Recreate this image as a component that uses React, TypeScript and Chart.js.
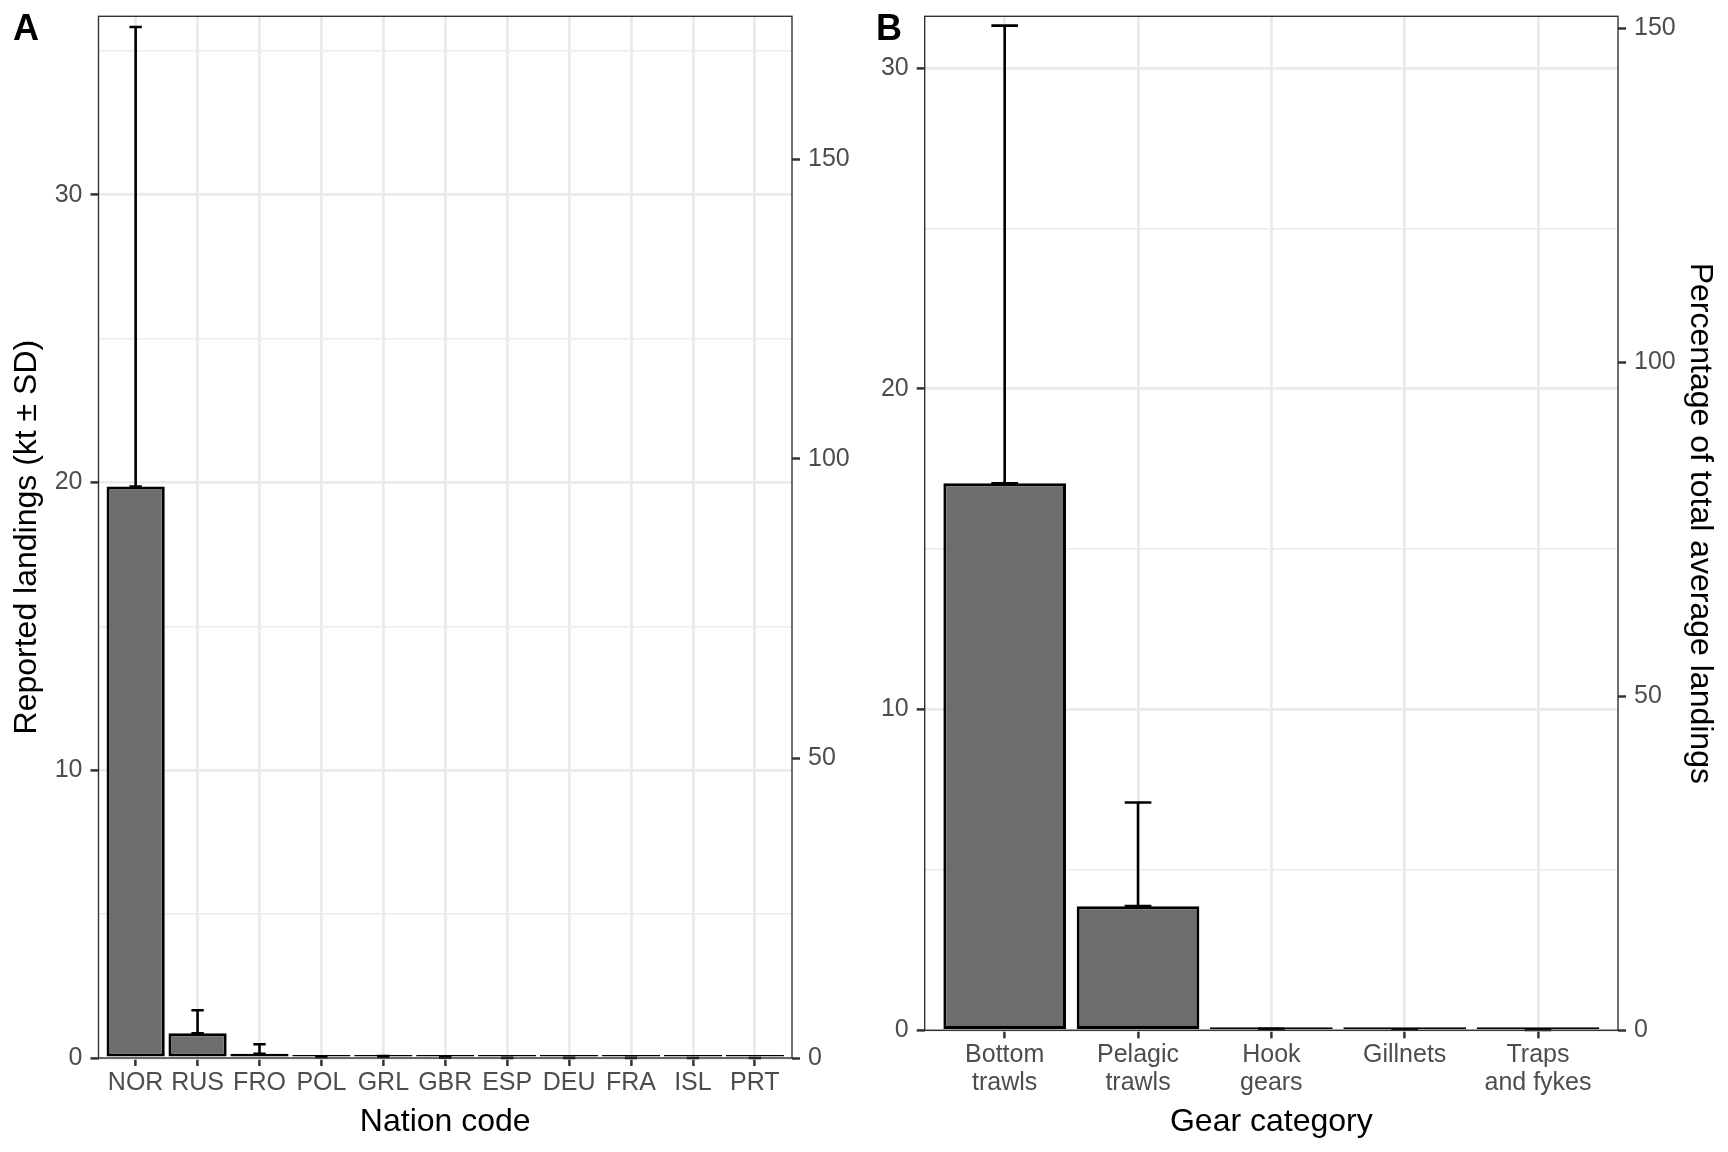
import { useEffect, useRef } from 'react';
import Chart from 'chart.js/auto';

// panel A: landings by nation (kt)
const nationCodes = ['NOR', 'RUS', 'FRO', 'POL', 'GRL', 'GBR', 'ESP', 'DEU', 'FRA', 'ISL', 'PRT'];
const nationMeans = [19.86, 0.86, 0.15, 0.03, 0.04, 0.01, 0.005, 0.003, 0.002, 0.001, 0.001];
const nationSds = [15.97, 0.8, 0.33, 0.01, 0.03, 0.03, 0.004, 0.002, 0.001, 0.001, 0.001];

// panel B: landings by gear category (kt)
const gearLabels = [['Bottom', 'trawls'], ['Pelagic', 'trawls'], ['Hook', 'gears'], ['Gillnets'], ['Traps', 'and fykes']];
const gearMeans = [17.05, 3.87, 0.03, 0.02, 0.01];
const gearSds = [14.27, 3.23, 0.02, 0.01, 0.005];

// total average landings (kt) that the right-hand percentage axis refers to
const totalLandings = 20.82;

const landingTicks = [0, 5, 10, 15, 20, 25, 30, 35];
const percentTicks = [0, 50, 100, 150];

const FONT = "'Liberation Sans', Arial, Helvetica, sans-serif";
const tickFont = { family: FONT, size: 25, lineHeight: 1.108 };
const titleFont = { family: FONT, size: 32, lineHeight: 1.2 };

const errorBarPlugin = {
  id: 'errorBars',
  afterDatasetsDraw(chart: any, _args: any, opts: any) {
    const { ctx, chartArea } = chart;
    const xs = chart.scales.x;
    const ys = chart.scales.y;
    const half = (xs.getPixelForValue(1) - xs.getPixelForValue(0)) * 0.1;
    ctx.save();
    ctx.strokeStyle = '#000000';
    ctx.lineWidth = 2.6;
    opts.means.forEach((m: number, i: number) => {
      const cx = xs.getPixelForValue(i);
      const yLow = ys.getPixelForValue(m);
      const yHigh = ys.getPixelForValue(m + opts.sds[i]);
      ctx.beginPath();
      ctx.moveTo(cx, yLow);
      ctx.lineTo(cx, yHigh);
      ctx.moveTo(cx - half, yLow);
      ctx.lineTo(cx + half, yLow);
      ctx.moveTo(cx - half, yHigh);
      ctx.lineTo(cx + half, yHigh);
      ctx.stroke();
    });
    // panel border on top
    ctx.strokeStyle = '#333333';
    ctx.lineWidth = 1.4;
    ctx.strokeRect(chartArea.left, chartArea.top, chartArea.right - chartArea.left, chartArea.bottom - chartArea.top);
    ctx.restore();
  },
};

type PanelProps = {
  labels: (string | string[])[];
  means: number[];
  sds: number[];
  yMax: number;
  leftWidth: number;
  rightWidth: number;
  bottomHeight: number;
  barPct: number;
  xTitle: string;
  leftTitle: boolean;
  rightTitle: boolean;
};

function Panel(props: PanelProps) {
  const chartRef = useRef<HTMLCanvasElement>(null);

  useEffect(() => {
    if (!chartRef.current) return;
    const ctx = chartRef.current.getContext('2d');
    if (!ctx) return;

    const { labels, means, sds, yMax } = props;

    const chart = new Chart(ctx, {
      type: 'bar',
      data: {
        datasets: [
          {
            data: means.map((v, i) => ({ x: i, y: v })),
            backgroundColor: '#6D6D6D',
            borderColor: '#000000',
            borderWidth: 3,
            borderSkipped: false,
            barPercentage: props.barPct,
            categoryPercentage: 1,
            minBarLength: 3,
            yAxisID: 'y',
          },
        ],
      },
      plugins: [errorBarPlugin],
      options: {
        animation: false,
        responsive: true,
        maintainAspectRatio: false,
        layout: { padding: { top: 16.3, left: 0, right: 0, bottom: 0 } },
        plugins: {
          legend: { display: false },
          tooltip: { enabled: false },
          // @ts-ignore
          errorBars: { means, sds },
        },
        scales: {
          x: {
            type: 'linear',
            min: -0.6,
            max: labels.length - 0.4,
            offset: false,
            afterBuildTicks: (s: any) => {
              s.ticks = labels.map((_, i) => ({ value: i }));
            },
            afterFit: (s: any) => {
              s.height = props.bottomHeight;
              s.paddingLeft = 0;
              s.paddingRight = 0;
            },
            grid: {
              color: '#EBEBEB',
              lineWidth: 2.8,
              offset: false,
              tickLength: 8,
              tickColor: '#333333',
              tickWidth: 2.5,
            },
            border: { display: false },
            ticks: {
              autoSkip: false,
              maxRotation: 0,
              minRotation: 0,
              padding: 3.2,
              color: '#4D4D4D',
              font: tickFont,
              callback: (v: any) => labels[v],
            },
            title: {
              display: true,
              text: props.xTitle,
              color: '#000000',
              font: titleFont,
              padding: { top: 0, bottom: 10.3 },
            },
          },
          y: {
            position: 'left',
            min: 0,
            max: yMax,
            afterBuildTicks: (s: any) => {
              s.ticks = landingTicks.map((v) => ({ value: v }));
            },
            afterFit: (s: any) => {
              s.width = props.leftWidth;
              s.paddingTop = 0;
              s.paddingBottom = 0;
            },
            grid: {
              color: '#EBEBEB',
              lineWidth: (c: any) => (c.tick && c.tick.value % 10 === 0 ? 2.8 : 1.4),
              tickLength: 8,
              tickColor: (c: any) => (c.tick && c.tick.value % 10 === 0 ? '#333333' : 'rgba(0,0,0,0)'),
              tickWidth: 2.5,
            },
            border: { display: false },
            ticks: {
              padding: 8,
              color: '#4D4D4D',
              font: tickFont,
              callback: (v: any) => (v % 10 === 0 ? String(v) : ''),
            },
            title: {
              display: props.leftTitle,
              text: 'Reported landings (kt ± SD)',
              color: '#000000',
              font: titleFont,
              padding: { top: 8.3, bottom: 0 },
            },
          },
          y1: {
            position: 'right',
            min: 0,
            max: (yMax * 100) / totalLandings,
            afterBuildTicks: (s: any) => {
              s.ticks = percentTicks.map((v) => ({ value: v }));
            },
            afterFit: (s: any) => {
              s.width = props.rightWidth;
              s.paddingTop = 0;
              s.paddingBottom = 0;
            },
            grid: {
              drawOnChartArea: false,
              tickLength: 8,
              tickColor: '#333333',
              tickWidth: 2.5,
            },
            border: { display: false },
            ticks: { padding: 8, color: '#4D4D4D', font: tickFont },
            title: {
              display: props.rightTitle,
              text: 'Percentage of total average landings',
              color: '#000000',
              font: titleFont,
              padding: { top: 9.4, bottom: 0 },
            },
          },
        },
      } as any,
    });

    return () => {
      chart.destroy();
    };
  }, []);

  return <canvas ref={chartRef}></canvas>;
}

export default function App() {
  const tagStyle = {
    position: 'absolute' as const,
    top: 10,
    fontFamily: FONT,
    fontWeight: 700,
    fontSize: 36,
    lineHeight: 1,
    color: '#000000',
  };

  return (
    <div style={{ position: 'absolute', left: 0, top: 0, width: 1728, height: 1152, background: '#ffffff' }}>
      <div style={{ position: 'absolute', left: 0, top: 0, width: 864, height: 1152 }}>
        <Panel
          labels={nationCodes}
          means={nationMeans}
          sds={nationSds}
          yMax={36.2}
          leftWidth={98.5}
          rightWidth={72}
          bottomHeight={94}
          barPct={0.94}
          xTitle="Nation code"
          leftTitle={true}
          rightTitle={false}
        />
      </div>
      <div style={{ position: 'absolute', left: 864, top: 0, width: 864, height: 1152 }}>
        <Panel
          labels={gearLabels}
          means={gearMeans}
          sds={gearSds}
          yMax={31.61}
          leftWidth={60.7}
          rightWidth={110}
          bottomHeight={121.7}
          barPct={0.92}
          xTitle="Gear category"
          leftTitle={false}
          rightTitle={true}
        />
      </div>
      <div style={{ ...tagStyle, left: 13 }}>A</div>
      <div style={{ ...tagStyle, left: 876 }}>B</div>
    </div>
  );
}
